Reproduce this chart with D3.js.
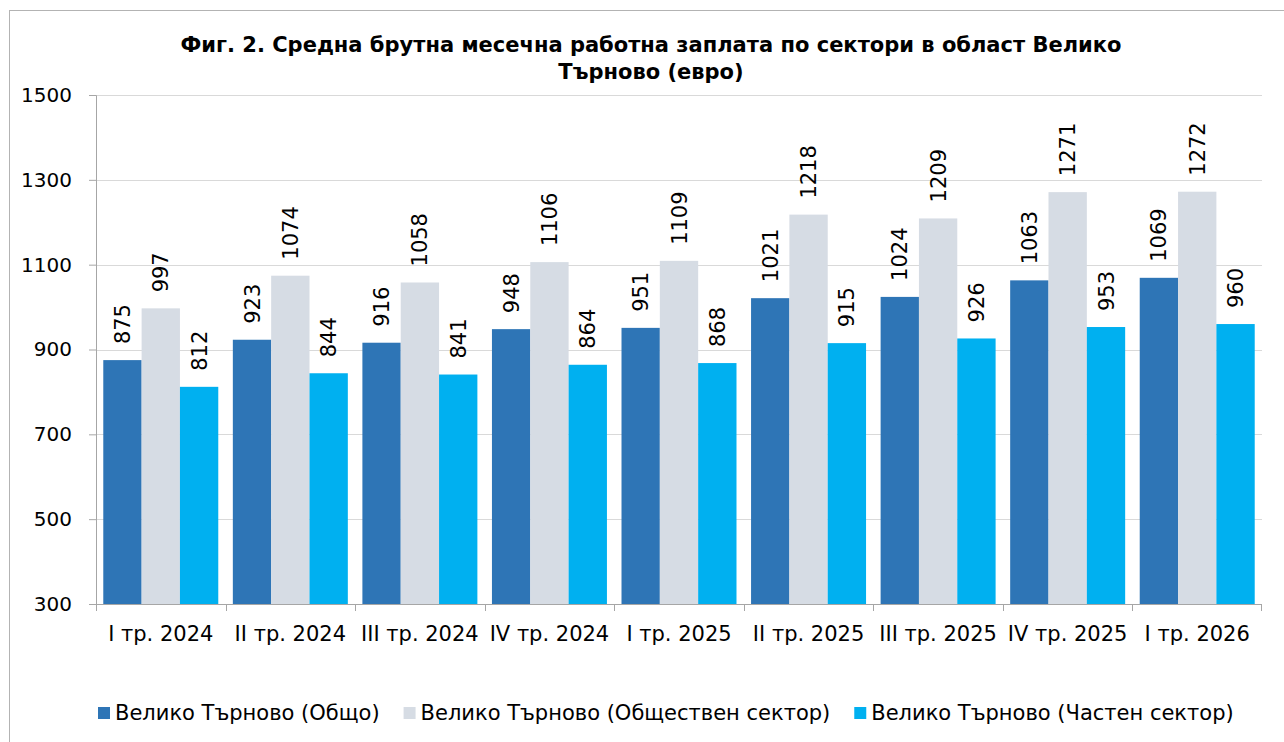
<!DOCTYPE html>
<html>
<head>
<meta charset="utf-8">
<script src="https://cdn.jsdelivr.net/npm/d3@7"></script>
<style>
  body { margin: 0; background: #fff; }
  svg { display: block; font-family: "DejaVu Sans", Verdana, sans-serif; }
</style>
</head>
<body>
<svg id="chart" width="1284" height="742"></svg>
<script>
var quarters = ["I тр. 2024", "II тр. 2024", "III тр. 2024", "IV тр. 2024", "I тр. 2025",
    "II тр. 2025", "III тр. 2025", "IV тр. 2025", "I тр. 2026"];
var seriesNames = ["Велико Търново (Общо)", "Велико Търново (Обществен сектор)", "Велико Търново (Частен сектор)"];
var totalValues = [875, 923, 916, 948, 951, 1021, 1024, 1063, 1069];
var publicValues = [997, 1074, 1058, 1106, 1109, 1218, 1209, 1271, 1272];
var privateValues = [812, 844, 841, 864, 868, 915, 926, 953, 960];
var yTicks = [300, 500, 700, 900, 1100, 1300, 1500];
var colors = ["#2E75B6", "#D6DCE4", "#00B0F0"];

var allSeries = [totalValues, publicValues, privateValues];

// rows for the grouped bars
var rows = quarters.map(function (q, i) {
    return { quarter: q, values: allSeries.map(function (s, j) { return { key: j, value: s[i] }; }) };
});

var svg = d3.select("#chart");

// outer border of the chart area
svg.append("rect")
    .attr("x", 9.5).attr("y", 10.5)
    .attr("width", 1300).attr("height", 760)
    .attr("fill", "none")
    .attr("stroke", "#B3B3B3");

// title
var title = svg.append("text")
    .attr("text-anchor", "middle")
    .attr("font-weight", "bold")
    .attr("font-size", "21px")
    .attr("fill", "#000");
title.append("tspan").attr("x", 651).attr("y", 52)
    .text("Фиг. 2. Средна брутна месечна работна заплата по сектори в област Велико");
title.append("tspan").attr("x", 651).attr("y", 79)
    .text("Търново (евро)");

var margin = { left: 96, right: 1262, top: 95, bottom: 604 };

var x = d3.scaleBand()
    .domain(quarters)
    .range([margin.left, margin.right])
    .padding(0);

var xInner = d3.scaleBand()
    .domain([0, 1, 2])
    .range([0, x.bandwidth()])
    .paddingInner(0)
    .paddingOuter(0.19);

var y = d3.scaleLinear()
    .domain([300, 1500])
    .range([margin.bottom, margin.top]);

// gridlines
svg.append("g")
    .selectAll("line")
    .data(yTicks.slice(1))
    .enter().append("line")
    .attr("x1", margin.left).attr("x2", margin.right)
    .attr("y1", function (d) { return Math.round(y(d)) + 0.5; })
    .attr("y2", function (d) { return Math.round(y(d)) + 0.5; })
    .attr("stroke", "#D9D9D9");

// bars
var groups = svg.append("g")
    .selectAll("g")
    .data(rows)
    .enter().append("g")
    .attr("transform", function (d) { return "translate(" + x(d.quarter) + ",0)"; });

groups.selectAll("rect")
    .data(function (d) { return d.values; })
    .enter().append("rect")
    .attr("x", function (d) { return xInner(d.key); })
    .attr("width", xInner.bandwidth())
    .attr("y", function (d) { return y(d.value); })
    .attr("height", function (d) { return y(300) - y(d.value); })
    .attr("fill", function (d) { return colors[d.key]; });

// value labels, rotated
groups.selectAll("text")
    .data(function (d) { return d.values; })
    .enter().append("text")
    .attr("transform", function (d) {
        return "translate(" + (xInner(d.key) + xInner.bandwidth() / 2) + "," + (y(d.value) - 16) + ") rotate(-90)";
    })
    .attr("dy", "0.36em")
    .attr("font-size", "21px")
    .attr("fill", "#000")
    .text(function (d) { return d.value; });

// y axis
var yAxis = svg.append("g")
    .attr("transform", "translate(" + margin.left + ",0)")
    .call(d3.axisLeft(y).tickValues(yTicks).tickSize(7).tickPadding(17).tickFormat(d3.format("d")));
yAxis.select(".domain").attr("stroke", "#A6A6A6");
yAxis.selectAll(".tick line").attr("stroke", "#A6A6A6");
yAxis.selectAll(".tick text")
    .attr("font-size", "20px")
    .attr("font-family", "DejaVu Sans, Verdana, sans-serif")
    .attr("fill", "#000");

// x axis with ticks between categories
var xAxis = svg.append("g")
    .attr("transform", "translate(0," + margin.bottom + ")");
xAxis.append("line")
    .attr("x1", margin.left).attr("x2", margin.right)
    .attr("y1", 0.5).attr("y2", 0.5)
    .attr("stroke", "#A6A6A6");
xAxis.selectAll(".xtick")
    .data(quarters.concat(["end"]))
    .enter().append("line")
    .attr("class", "xtick")
    .attr("x1", function (d, i) { return i < quarters.length ? Math.round(x(d)) + 0.5 : margin.right - 0.5; })
    .attr("x2", function (d, i) { return i < quarters.length ? Math.round(x(d)) + 0.5 : margin.right - 0.5; })
    .attr("y1", 0).attr("y2", 7)
    .attr("stroke", "#A6A6A6");
xAxis.selectAll(".xlabel")
    .data(quarters)
    .enter().append("text")
    .attr("class", "xlabel")
    .attr("x", function (d) { return x(d) + x.bandwidth() / 2; })
    .attr("y", 37)
    .attr("text-anchor", "middle")
    .attr("font-size", "21px")
    .attr("fill", "#000")
    .text(function (d) { return d; });

// legend
var legend = svg.append("g").attr("transform", "translate(98,707)");
var lx = 0;
seriesNames.forEach(function (name, i) {
    var item = legend.append("g").attr("transform", "translate(" + lx + ",0)");
    item.append("rect")
        .attr("width", 12).attr("height", 12)
        .attr("fill", colors[i]);
    var t = item.append("text")
        .attr("x", 17).attr("y", 13)
        .attr("font-size", "21px")
        .attr("fill", "#000")
        .text(name);
    lx += 17 + t.node().getComputedTextLength() + 24;
});
</script>
</body>
</html>
